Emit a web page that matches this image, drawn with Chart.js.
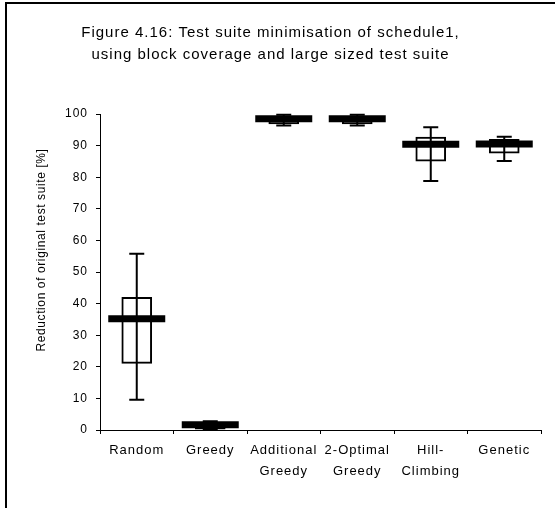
<!DOCTYPE html>
<html>
<head>
<meta charset="utf-8">
<script src="https://cdn.jsdelivr.net/npm/chart.js@4.4.0/dist/chart.umd.min.js"></script>
<style>
  html, body { margin: 0; padding: 0; background: #fff; }
  #wrap { position: relative; width: 555px; height: 508px; overflow: hidden; }
  #frame { position: absolute; left: 5px; top: 2px; right: -4px; bottom: -4px;
           border-top: 2px solid #000; border-left: 2px solid #000; pointer-events: none; }
</style>
</head>
<body>
<div id="wrap">
  <canvas id="box-canvas" width="555" height="508"></canvas>
  <div id="frame"></div>
</div>
<script>
const categories = [['Random'], ['Greedy'], ['Additional', 'Greedy'], ['2-Optimal', 'Greedy'], ['Hill-', 'Climbing'], ['Genetic']];
const minimum = [9.6, 0, 96.4, 96.4, 78.8, 85.1];
const lowerQuartile = [21.1, 0.3, 96.9, 96.9, 85.1, 87.6];
const median = [35.2, 1.7, 98.5, 98.5, 90.4, 90.5];
const upperQuartile = [42, 2.3, 99.1, 99.1, 92.7, 92];
const maximum = [55.8, 2.8, 99.8, 99.8, 95.8, 92.8];
const yTicks = [0, 10, 20, 30, 40, 50, 60, 70, 80, 90, 100];

const FONT = '"Liberation Sans", Arial, sans-serif';

// the original (Excel) text is spaced out a little
const wideText = {
  id: 'wideText',
  beforeUpdate(chart) { chart.ctx.letterSpacing = '1px'; },
  beforeDraw(chart) { chart.ctx.letterSpacing = '1px'; },
};

// whiskers, caps and the thick median bar, drawn on top of the boxes
const boxMarks = {
  id: 'boxMarks',
  afterDatasetsDraw(chart) {
    const { ctx, scales: { x, y } } = chart;
    ctx.save();
    ctx.strokeStyle = '#000';
    categories.forEach((c, i) => {
      const cx = x.getPixelForValue(i);
      const lo = y.getPixelForValue(minimum[i]);
      const hi = y.getPixelForValue(maximum[i]);
      ctx.lineWidth = 2;
      ctx.beginPath();
      ctx.moveTo(cx, lo);
      ctx.lineTo(cx, hi);
      ctx.moveTo(cx - 7.5, lo);
      ctx.lineTo(cx + 7.5, lo);
      ctx.moveTo(cx - 7.5, hi);
      ctx.lineTo(cx + 7.5, hi);
      ctx.stroke();

      const my = y.getPixelForValue(median[i]);
      ctx.lineWidth = 7;
      ctx.beginPath();
      ctx.moveTo(cx - 28.5, my);
      ctx.lineTo(cx + 28.5, my);
      ctx.stroke();
    });

    // y axis title, placed like the original
    ctx.fillStyle = '#000';
    ctx.font = '12px ' + FONT;
    ctx.letterSpacing = '0.6px';
    ctx.textAlign = 'center';
    ctx.textBaseline = 'middle';
    ctx.translate(42, 250);
    ctx.rotate(-Math.PI / 2);
    ctx.fillText('Reduction of original test suite [%]', 0, 0);
    ctx.restore();
    ctx.letterSpacing = '1px';
  },
};

const chart = new Chart(document.getElementById('box-canvas').getContext('2d'), {
  type: 'bar',
  data: {
    labels: categories,
    datasets: [
      {
        label: 'Quartiles',
        data: lowerQuartile.map((q, i) => [q, upperQuartile[i]]),
        backgroundColor: '#fff',
        borderColor: '#000',
        borderWidth: 2,
        borderSkipped: false,
        barThickness: 30,
      },
    ],
  },
  options: {
    responsive: false,
    animation: false,
    layout: { padding: { left: 0, right: 14, top: 0, bottom: 0 } },
    plugins: {
      legend: { display: false },
      tooltip: { enabled: false },
      title: {
        display: true,
        text: ['Figure 4.16: Test suite minimisation of schedule1,', 'using block coverage and large sized test suite'],
        color: '#000',
        font: { family: FONT, size: 15, weight: 'normal', lineHeight: '22px' },
        padding: { top: 22, bottom: 48 },
      },
    },
    scales: {
      x: {
        grid: { drawOnChartArea: false, tickLength: 4, color: '#000', offset: true },
        border: { color: '#000', width: 1 },
        ticks: { color: '#000', font: { family: FONT, size: 13, lineHeight: '21px' }, padding: 6, maxRotation: 0 },
        afterFit: (scale) => { scale.height = 78; },
      },
      y: {
        min: 0,
        max: 100,
        afterBuildTicks: (scale) => { scale.ticks = yTicks.map((v) => ({ value: v })); },
        grid: { drawOnChartArea: false, tickLength: 4, color: '#000' },
        border: { color: '#000', width: 1 },
        ticks: { color: '#000', font: { family: FONT, size: 12 }, padding: 8 },
        afterFit: (scale) => { scale.width = 100; },
      },
    },
  },
  plugins: [wideText, boxMarks],
});
</script>
</body>
</html>
